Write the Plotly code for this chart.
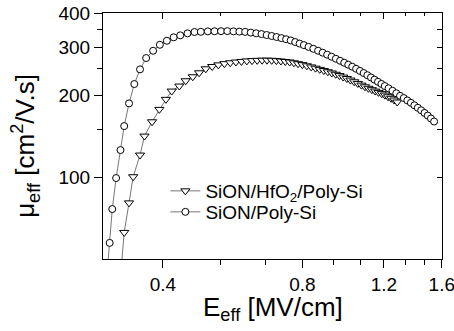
import plotly.graph_objects as go
import math

# SiON/Poly-Si (circles)
e_sion = [0.303, 0.307, 0.311, 0.317, 0.324, 0.330, 0.338, 0.347, 0.357, 0.368, 0.381,
          0.394, 0.408, 0.422, 0.436, 0.452, 0.468, 0.483, 0.500,
          0.517, 0.534, 0.551, 0.568, 0.585, 0.602, 0.619, 0.636, 0.653, 0.670,
          0.687, 0.704, 0.721, 0.738, 0.755, 0.772, 0.789, 0.806, 0.825, 0.845,
          0.865, 0.885, 0.905, 0.925, 0.945, 0.965, 0.985, 1.005, 1.025, 1.045,
          1.065, 1.085, 1.105, 1.125, 1.145, 1.165, 1.185, 1.205, 1.228, 1.252,
          1.276, 1.300, 1.324, 1.348, 1.372, 1.396, 1.420, 1.444, 1.468, 1.492,
          1.516, 1.540]
mu_sion = [44.0, 57.3, 76.3, 99.2, 125.7, 154.0, 186.6, 219.8, 248.9, 273.9, 291.3,
           306.4, 317.0, 326.4, 331.9, 337.5, 341.4, 342.0, 343.3,
           343.6, 343.9, 344.0, 343.3, 342.6, 341.8, 339.7, 337.7, 335.5, 332.8,
           330.1, 327.3, 324.2, 321.2, 317.8, 313.7, 309.6, 305.6, 301.0, 296.2,
           291.4, 286.6, 281.8, 277.0, 272.2, 267.7, 263.3, 258.9, 254.5, 250.1,
           245.7, 241.3, 236.9, 232.5, 228.1, 224.0, 220.0, 216.1, 212.0, 207.6,
           203.3, 199.0, 195.2, 191.3, 187.5, 183.6, 179.8, 176.0, 172.1, 168.3,
           164.2, 160.0]

# SiON/HfO2/Poly-Si (triangles)
e_hfo = [0.325, 0.330, 0.338, 0.345, 0.357, 0.365, 0.379, 0.393, 0.406, 0.418, 0.434,
         0.448, 0.464, 0.479, 0.495,
         0.511, 0.527, 0.543, 0.559, 0.575, 0.591, 0.607, 0.623, 0.639, 0.655,
         0.671, 0.687, 0.703, 0.719, 0.735, 0.751, 0.767, 0.783, 0.800, 0.818,
         0.836, 0.854, 0.872, 0.890, 0.908, 0.926, 0.944, 0.962, 0.980, 0.998,
         1.016, 1.035, 1.054, 1.073, 1.092, 1.111, 1.130, 1.149, 1.168, 1.187,
         1.206, 1.225, 1.244, 1.263, 1.282]
mu_hfo = [46.0, 62.6, 80.4, 100.3, 120.5, 141.5, 159.7, 177.4, 193.1, 207.1, 216.1,
          226.0, 233.8, 241.8, 250.1,
          255.0, 258.5, 261.2, 263.2, 264.8, 266.2, 267.3, 268.0, 268.6, 269.0,
          269.0, 268.7, 268.0, 267.1, 266.0, 264.9, 263.1, 261.1, 259.0, 256.5,
          254.0, 251.4, 248.9, 246.4, 243.9, 241.4, 238.8, 236.1, 233.2, 230.3,
          227.3, 224.1, 220.9, 217.8, 214.8, 212.0, 209.5, 207.1, 204.8, 202.6,
          200.2, 197.4, 194.8, 192.0, 188.8]

x_ticks = [0.4, 0.8, 1.2, 1.6]
x_minor = [0.5333, 0.6667, 0.9333, 1.0667, 1.3333, 1.4667]
y_ticks = [100, 200, 300, 400]
y_minor = [150, 250, 350]
x_range = [0.297, 1.6015]
y_range = [50, 401]

FONT = "Liberation Sans, Arial, sans-serif"

fig = go.Figure()
fig.add_trace(go.Scatter(
    x=e_hfo, y=mu_hfo, mode="lines+markers", name="SiON/HfO<sub>2</sub>/Poly-Si",
    legend="legend",
    line=dict(color="#777777", width=1),
    marker=dict(symbol="triangle-down", size=8, color="white",
                line=dict(color="black", width=1))))
fig.add_trace(go.Scatter(
    x=e_sion, y=mu_sion, mode="lines+markers", name="SiON/Poly-Si",
    legend="legend2",
    line=dict(color="#777777", width=1),
    marker=dict(symbol="circle", size=7, color="white",
                line=dict(color="black", width=1))))
# dummy trace to activate mirror axes (top/right)
fig.add_trace(go.Scatter(x=[None], y=[None], xaxis="x2", yaxis="y2",
                         showlegend=False, hoverinfo="skip"))

lx = [math.log10(v) for v in x_range]
ly = [math.log10(v) for v in y_range]

common_legend = dict(xanchor="left", yanchor="middle", bgcolor="rgba(0,0,0,0)",
                     font=dict(size=19), borderwidth=0)

fig.update_layout(
    width=454, height=331,
    margin=dict(l=103, r=12, t=13, b=72, autoexpand=False),
    paper_bgcolor="white", plot_bgcolor="white",
    font=dict(family=FONT, size=19, color="black"),
    showlegend=True,
    legend=dict(x=0.184, y=(259 - 191) / 246, **common_legend),
    legend2=dict(x=0.184, y=(259 - 212) / 246, **common_legend),
    xaxis=dict(type="log", range=lx, tickvals=x_ticks, ticktext=[str(v) for v in x_ticks],
               ticks="outside", ticklen=8, tickwidth=1, tickcolor="black", automargin=False,
               ticklabeloverflow="allow",
               showline=True, linecolor="black", linewidth=1, showgrid=False, zeroline=False,
               minor=dict(tickvals=x_minor, ticks="outside", ticklen=5, tickcolor="black", showgrid=False)),
    yaxis=dict(type="log", range=ly, tickvals=y_ticks, ticktext=[str(v) for v in y_ticks],
               ticks="outside", ticklen=8, tickwidth=1, tickcolor="black", automargin=False,
               ticklabeloverflow="allow",
               showline=True, linecolor="black", linewidth=1, showgrid=False, zeroline=False,
               minor=dict(tickvals=y_minor, ticks="outside", ticklen=5, tickcolor="black", showgrid=False)),
    xaxis2=dict(type="log", range=lx, overlaying="x", side="top", tickvals=x_ticks,
                showticklabels=False, ticks="inside", ticklen=6, tickcolor="black", automargin=False,
                showline=True, linecolor="black", linewidth=1, showgrid=False, zeroline=False,
                minor=dict(tickvals=x_minor, ticks="inside", ticklen=3, tickcolor="black", showgrid=False)),
    yaxis2=dict(type="log", range=ly, overlaying="y", side="right", tickvals=y_ticks,
                showticklabels=False, ticks="inside", ticklen=5, tickcolor="black", automargin=False,
                showline=True, linecolor="black", linewidth=1, showgrid=False, zeroline=False,
                minor=dict(tickvals=y_minor, ticks="inside", ticklen=5, tickcolor="black", showgrid=False)),
    annotations=[
        dict(text="E<sub>eff</sub> [MV/cm]", xref="paper", yref="paper", x=0.5, y=-0.2,
             xanchor="center", yanchor="middle", showarrow=False, font=dict(size=26)),
        dict(text="μ<sub>eff</sub> [cm<sup>2</sup>/V.s]", xref="paper", yref="paper", x=-0.23, y=0.46,
             xanchor="center", yanchor="middle", showarrow=False, textangle=-90, font=dict(size=26)),
    ],
)

fig.write_html("out.html")
